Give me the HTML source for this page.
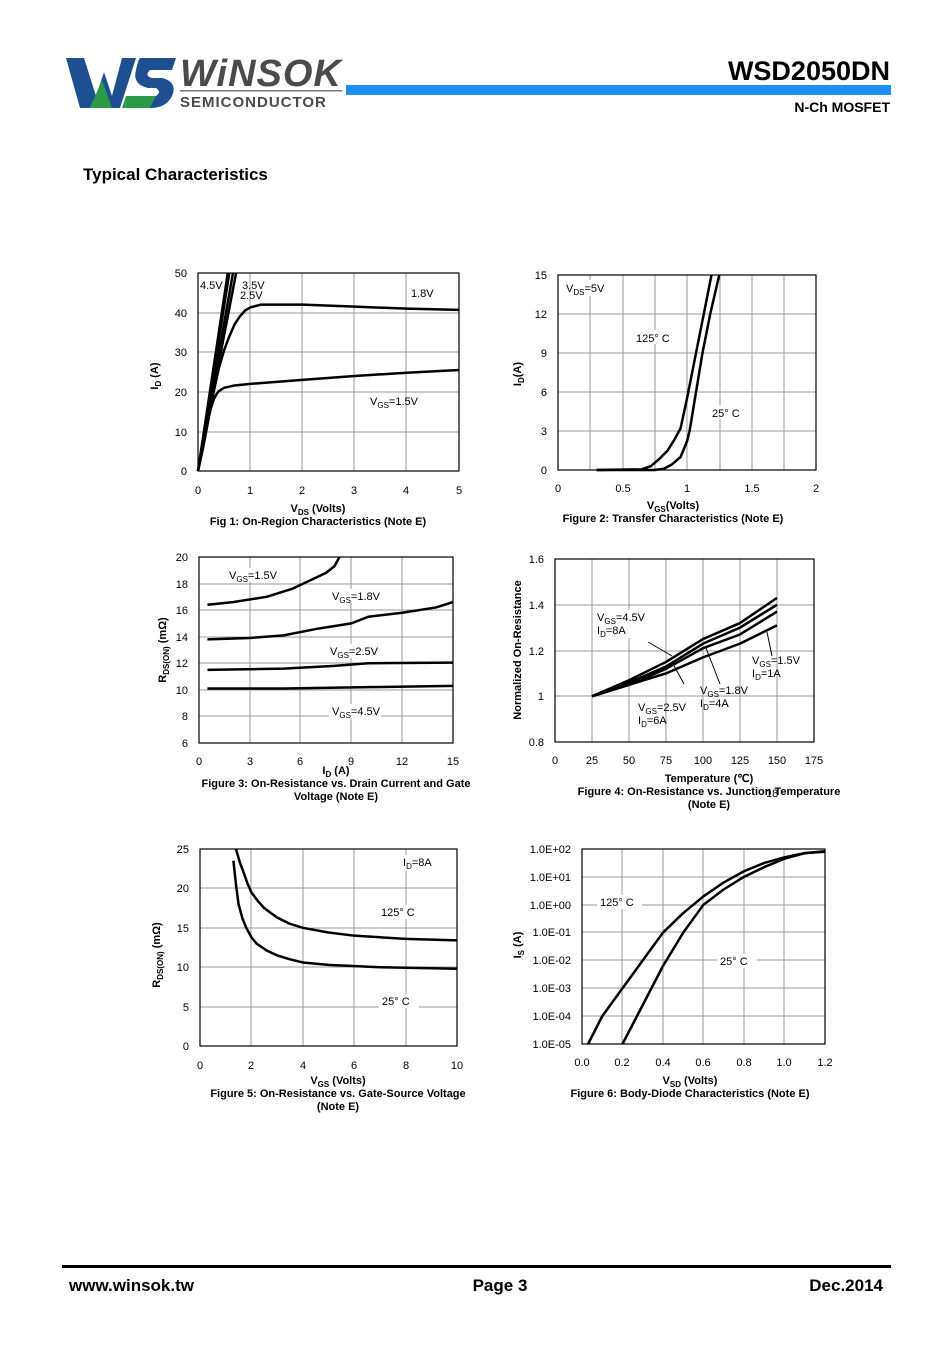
<!DOCTYPE html>
<html><head><meta charset="utf-8"><style>
body{margin:0;background:#fff;}
svg text{font-family:"Liberation Sans",Arial,sans-serif;}
.g{stroke:#999;stroke-width:1;fill:none}
.b{stroke:#000;stroke-width:1.2;fill:none}
.c{fill:none;stroke:#000;stroke-width:2.5;vector-effect:non-scaling-stroke;stroke-linejoin:round}
.t{font-size:11px}
.s{font-size:8px}
.cap{font-size:11px;font-weight:bold}
</style></head><body>
<svg width="950" height="1344" viewBox="0 0 950 1344" xmlns="http://www.w3.org/2000/svg">
<!-- logo -->
<path d="M66 58 L84 58 L96 96 L104 72 L112 96 L122 58 L136 58 L120 108 L104 108 L100 98 L94 108 L80 108 Z" fill="#1d4f91"/>
<path d="M90 108 L102 80 L112 108 Z" fill="#2a9a48"/>
<path d="M140 58 L176 58 L172 70 L150 70 Q144 76 152 78 L162 78 Q178 82 172 96 Q166 108 150 108 L124 108 L130 96 L156 96 Q162 92 156 88 L148 88 Q132 84 136 70 Q138 60 140 58Z" fill="#1d4f91"/>
<path d="M126 96 L156 96 L150 108 L122 108 Z" fill="#2a9a48"/>
<text x="180" y="86" font-size="38" font-weight="bold" font-style="italic" fill="#4a4a4a" letter-spacing="1">WiNSOK</text>
<rect x="180" y="90" width="162" height="1.5" fill="#777"/>
<text x="180" y="107" font-size="15" font-weight="bold" fill="#4a4a4a" letter-spacing="1">SEMICONDUCTOR</text>
<rect x="346" y="85" width="545" height="10" fill="#1e8ff0"/>
<text x="890" y="80" font-size="27" font-weight="bold" text-anchor="end">WSD2050DN</text>
<text x="890" y="112" font-size="14" font-weight="bold" text-anchor="end">N-Ch MOSFET</text>
<text x="83" y="180" font-size="17" font-weight="bold">Typical Characteristics</text>

<!-- Chart 1 -->
<g class="g"><path d="M250 273V471M302 273V471M354 273V471M406 273V471M198 313H459M198 352H459M198 392H459M198 432H459"/></g>
<rect x="198" y="273" width="261" height="198" class="b"/>
<g class="t" text-anchor="end"><text x="187" y="277">50</text><text x="187" y="317">40</text><text x="187" y="356">30</text><text x="187" y="396">20</text><text x="187" y="436">10</text><text x="187" y="475">0</text></g>
<g class="t" text-anchor="middle"><text x="198" y="494">0</text><text x="250" y="494">1</text><text x="302" y="494">2</text><text x="354" y="494">3</text><text x="406" y="494">4</text><text x="459" y="494">5</text></g>
<g transform="translate(198,471) scale(52.2,-3.96)">
<polyline class="c" points="0,0 0.05,3.5 0.1,7 0.15,10.5 0.2,13.5 0.25,16 0.3,18 0.35,19.3 0.4,20.2 0.5,21 0.7,21.6 1,22 2,23 3,24 4,24.8 5,25.5"/>
<polyline class="c" points="0,0 0.1,6 0.2,13 0.3,20 0.4,26 0.5,30.5 0.6,34 0.7,37 0.8,39 0.9,40.5 1,41.3 1.2,42 2,42 3,41.5 4,41 5,40.7"/>
<polyline class="c" points="0,0 0.73,50"/><polyline class="c" points="0,0 0.67,50"/><polyline class="c" points="0,0 0.6,50"/><polyline class="c" points="0,0 0.57,50"/>
</g>
<text x="200" y="289" class="t">4.5V</text><text x="242" y="289" class="t">3.5V</text><text x="240" y="299" class="t">2.5V</text><text x="411" y="297" class="t">1.8V</text>
<text x="370" y="405" class="t">V<tspan class="s" dy="3">GS</tspan><tspan dy="-3">=1.5V</tspan></text>
<text x="158" y="376" class="t" font-weight="bold" transform="rotate(-90 158 376)" text-anchor="middle">I<tspan class="s" dy="3">D</tspan><tspan dy="-3"> (A)</tspan></text>
<text x="318" y="512" class="cap" text-anchor="middle">V<tspan class="s" dy="3">DS</tspan><tspan dy="-3"> (Volts)</tspan></text>
<text x="318" y="525" class="cap" text-anchor="middle">Fig 1: On-Region Characteristics (Note E)</text>

<!-- Chart 2 -->
<g class="g"><path d="M590 275V470M623 275V470M655 275V470M687 275V470M720 275V470M752 275V470M784 275V470M558 314H816M558 353H816M558 392H816M558 431H816"/></g>
<rect x="558" y="275" width="258" height="195" class="b"/>
<g class="t" text-anchor="end"><text x="547" y="279">15</text><text x="547" y="318">12</text><text x="547" y="357">9</text><text x="547" y="396">6</text><text x="547" y="435">3</text><text x="547" y="474">0</text></g>
<g class="t" text-anchor="middle"><text x="558" y="492">0</text><text x="623" y="492">0.5</text><text x="687" y="492">1</text><text x="752" y="492">1.5</text><text x="816" y="492">2</text></g>
<g transform="translate(558,470) scale(129,-13)">
<polyline class="c" points="0.3,0 0.65,0.05 0.72,0.3 0.78,0.8 0.85,1.5 0.9,2.3 0.95,3.2 1.0,5.5 1.05,8 1.1,10.5 1.15,13 1.19,15"/>
<polyline class="c" points="0.3,0 0.75,0 0.82,0.1 0.88,0.4 0.95,1 1.0,2.2 1.02,3 1.07,6 1.12,9 1.18,12 1.25,15"/>
</g>
<rect x="562" y="280" width="50" height="16" fill="#fff"/><text x="566" y="292" class="t">V<tspan class="s" dy="3">DS</tspan><tspan dy="-3">=5V</tspan></text>
<rect x="633" y="330" width="45" height="14" fill="#fff"/><text x="636" y="342" class="t">125° C</text>
<rect x="709" y="405" width="40" height="14" fill="#fff"/><text x="712" y="417" class="t">25° C</text>
<text x="521" y="374" class="t" font-weight="bold" transform="rotate(-90 521 374)" text-anchor="middle">I<tspan class="s" dy="3">D</tspan><tspan dy="-3">(A)</tspan></text>
<text x="673" y="509" class="cap" text-anchor="middle">V<tspan class="s" dy="3">GS</tspan><tspan dy="-3">(Volts)</tspan></text>
<text x="673" y="522" class="cap" text-anchor="middle">Figure 2: Transfer Characteristics (Note E)</text>

<!-- Chart 3 -->
<g class="g"><path d="M250 557V743M300 557V743M351 557V743M402 557V743M199 584H453M199 610H453M199 637H453M199 663H453M199 690H453M199 716H453"/></g>
<rect x="199" y="557" width="254" height="186" class="b"/>
<g class="t" text-anchor="end"><text x="188" y="561">20</text><text x="188" y="588">18</text><text x="188" y="614">16</text><text x="188" y="641">14</text><text x="188" y="667">12</text><text x="188" y="694">10</text><text x="188" y="720">8</text><text x="188" y="747">6</text></g>
<g class="t" text-anchor="middle"><text x="199" y="765">0</text><text x="250" y="765">3</text><text x="300" y="765">6</text><text x="351" y="765">9</text><text x="402" y="765">12</text><text x="453" y="765">15</text></g>
<g transform="translate(199,822.74) scale(16.93,-13.29)">
<polyline class="c" points="0.5,16.4 2,16.6 4,17 5.5,17.6 6.5,18.2 7.5,18.8 8,19.3 8.3,20"/>
<polyline class="c" points="0.5,13.8 3,13.9 5,14.1 7,14.6 9,15 10,15.5 12,15.8 14,16.2 15,16.6"/>
<polyline class="c" points="0.5,11.5 5,11.6 8,11.8 10,12 15,12.05"/>
<polyline class="c" points="0.5,10.1 5,10.1 10,10.2 15,10.3"/>
</g>
<rect x="226" y="568" width="52" height="14" fill="#fff"/><text x="229" y="579" class="t">V<tspan class="s" dy="3">GS</tspan><tspan dy="-3">=1.5V</tspan></text>
<rect x="329" y="589" width="52" height="14" fill="#fff"/><text x="332" y="600" class="t">V<tspan class="s" dy="3">GS</tspan><tspan dy="-3">=1.8V</tspan></text>
<rect x="327" y="644" width="52" height="14" fill="#fff"/><text x="330" y="655" class="t">V<tspan class="s" dy="3">GS</tspan><tspan dy="-3">=2.5V</tspan></text>
<rect x="329" y="704" width="52" height="14" fill="#fff"/><text x="332" y="715" class="t">V<tspan class="s" dy="3">GS</tspan><tspan dy="-3">=4.5V</tspan></text>
<text x="166" y="650" class="t" font-weight="bold" transform="rotate(-90 166 650)" text-anchor="middle">R<tspan class="s" dy="3">DS(ON)</tspan><tspan dy="-3"> (mΩ)</tspan></text>
<text x="336" y="774" class="cap" text-anchor="middle">I<tspan class="s" dy="3">D</tspan><tspan dy="-3"> (A)</tspan></text>
<text x="336" y="787" class="cap" text-anchor="middle">Figure 3: On-Resistance vs. Drain Current and Gate</text>
<text x="336" y="800" class="cap" text-anchor="middle">Voltage (Note E)</text>

<!-- Chart 4 -->
<g class="g"><path d="M592 559V742M629 559V742M666 559V742M703 559V742M740 559V742M777 559V742M555 605H814M555 651H814M555 696H814"/></g>
<rect x="555" y="559" width="259" height="183" class="b"/>
<g class="t" text-anchor="end"><text x="544" y="563">1.6</text><text x="544" y="609">1.4</text><text x="544" y="655">1.2</text><text x="544" y="700">1</text><text x="544" y="746">0.8</text></g>
<g class="t" text-anchor="middle"><text x="555" y="764">0</text><text x="592" y="764">25</text><text x="629" y="764">50</text><text x="666" y="764">75</text><text x="703" y="764">100</text><text x="740" y="764">125</text><text x="777" y="764">150</text><text x="814" y="764">175</text></g>
<g transform="translate(555,925) scale(1.48,-228.75)">
<polyline class="c" points="25,1 50,1.07 75,1.15 100,1.25 125,1.32 150,1.43"/>
<polyline class="c" points="25,1 50,1.06 75,1.13 100,1.23 125,1.3 150,1.4"/>
<polyline class="c" points="25,1 50,1.05 75,1.12 100,1.21 125,1.27 150,1.37"/>
<polyline class="c" points="25,1 50,1.05 75,1.1 100,1.17 125,1.23 150,1.31"/>
</g>
<g stroke="#000" stroke-width="1"><path d="M648 642L672 656M684 684L672 662M720 684L706 648M772 656L767 632"/></g>
<rect x="595" y="610" width="50" height="28" fill="#fff"/>
<text x="597" y="621" class="t">V<tspan class="s" dy="3">GS</tspan><tspan dy="-3">=4.5V</tspan></text><text x="597" y="634" class="t">I<tspan class="s" dy="3">D</tspan><tspan dy="-3">=8A</tspan></text>
<text x="752" y="664" class="t">V<tspan class="s" dy="3">GS</tspan><tspan dy="-3">=1.5V</tspan></text><text x="752" y="677" class="t">I<tspan class="s" dy="3">D</tspan><tspan dy="-3">=1A</tspan></text>
<text x="700" y="694" class="t">V<tspan class="s" dy="3">GS</tspan><tspan dy="-3">=1.8V</tspan></text><text x="700" y="707" class="t">I<tspan class="s" dy="3">D</tspan><tspan dy="-3">=4A</tspan></text>
<text x="638" y="711" class="t">V<tspan class="s" dy="3">GS</tspan><tspan dy="-3">=2.5V</tspan></text><text x="638" y="724" class="t">I<tspan class="s" dy="3">D</tspan><tspan dy="-3">=6A</tspan></text>
<text x="521" y="650" class="t" font-weight="bold" transform="rotate(-90 521 650)" text-anchor="middle">Normalized On-Resistance</text>
<text x="709" y="782" class="cap" text-anchor="middle">Temperature (℃)</text>
<text x="709" y="795" class="cap" text-anchor="middle">Figure 4: On-Resistance vs. Junction Temperature</text>
<text x="709" y="808" class="cap" text-anchor="middle">(Note E)</text>
<text x="766" y="797" class="t">18</text>

<!-- Chart 5 -->
<g class="g"><path d="M251 849V1046M303 849V1046M354 849V1046M406 849V1046M200 888H457M200 928H457M200 967H457M200 1007H457"/></g>
<rect x="200" y="849" width="257" height="197" class="b"/>
<g class="t" text-anchor="end"><text x="189" y="853">25</text><text x="189" y="892">20</text><text x="189" y="932">15</text><text x="189" y="971">10</text><text x="189" y="1011">5</text><text x="189" y="1050">0</text></g>
<g class="t" text-anchor="middle"><text x="200" y="1069">0</text><text x="251" y="1069">2</text><text x="303" y="1069">4</text><text x="354" y="1069">6</text><text x="406" y="1069">8</text><text x="457" y="1069">10</text></g>
<g transform="translate(200,1046) scale(25.7,-7.88)">
<polyline class="c" points="1.3,23.5 1.4,20.5 1.5,18 1.65,16.2 1.8,15 2,13.8 2.2,13 2.6,12.1 3,11.5 3.5,11 4,10.6 5,10.3 7,10 10,9.8"/>
<polyline class="c" points="1.4,25 1.55,23.3 1.7,22 1.85,20.6 2,19.5 2.25,18.4 2.5,17.5 3,16.3 3.5,15.5 4,15 5,14.4 6,14 8,13.6 10,13.4"/>
</g>
<rect x="401" y="855" width="34" height="16" fill="#fff"/><text x="403" y="866" class="t">I<tspan class="s" dy="3">D</tspan><tspan dy="-3">=8A</tspan></text>
<rect x="378" y="905" width="45" height="14" fill="#fff"/><text x="381" y="916" class="t">125° C</text>
<rect x="379" y="994" width="40" height="14" fill="#fff"/><text x="382" y="1005" class="t">25° C</text>
<text x="160" y="955" class="t" font-weight="bold" transform="rotate(-90 160 955)" text-anchor="middle">R<tspan class="s" dy="3">DS(ON)</tspan><tspan dy="-3"> (mΩ)</tspan></text>
<text x="338" y="1084" class="cap" text-anchor="middle">V<tspan class="s" dy="3">GS</tspan><tspan dy="-3"> (Volts)</tspan></text>
<text x="338" y="1097" class="cap" text-anchor="middle">Figure 5: On-Resistance vs. Gate-Source Voltage</text>
<text x="338" y="1110" class="cap" text-anchor="middle">(Note E)</text>

<!-- Chart 6 -->
<g class="g"><path d="M622 849V1044M663 849V1044M703 849V1044M744 849V1044M784 849V1044M582 877H825M582 905H825M582 932H825M582 960H825M582 988H825M582 1016H825"/></g>
<rect x="582" y="849" width="243" height="195" class="b"/>
<g class="t" text-anchor="end"><text x="571" y="853">1.0E+02</text><text x="571" y="881">1.0E+01</text><text x="571" y="909">1.0E+00</text><text x="571" y="936">1.0E-01</text><text x="571" y="964">1.0E-02</text><text x="571" y="992">1.0E-03</text><text x="571" y="1020">1.0E-04</text><text x="571" y="1048">1.0E-05</text></g>
<g class="t" text-anchor="middle"><text x="582" y="1066">0.0</text><text x="622" y="1066">0.2</text><text x="663" y="1066">0.4</text><text x="703" y="1066">0.6</text><text x="744" y="1066">0.8</text><text x="784" y="1066">1.0</text><text x="825" y="1066">1.2</text></g>
<g transform="translate(582,904.7) scale(202.5,-27.86)">
<polyline class="c" points="0.03,-5 0.1,-4 0.2,-3 0.3,-2 0.4,-1 0.5,-0.3 0.6,0.3 0.7,0.8 0.8,1.2 0.9,1.5 1.0,1.7 1.1,1.85 1.2,1.9"/>
<polyline class="c" points="0.2,-5 0.3,-3.6 0.4,-2.2 0.5,-1 0.6,0 0.7,0.55 0.8,1 0.9,1.35 1.0,1.65 1.1,1.85 1.2,1.92"/>
</g>
<rect x="597" y="895" width="45" height="14" fill="#fff"/><text x="600" y="906" class="t">125° C</text>
<rect x="717" y="954" width="40" height="14" fill="#fff"/><text x="720" y="965" class="t">25° C</text>
<text x="521" y="945" class="t" font-weight="bold" transform="rotate(-90 521 945)" text-anchor="middle">I<tspan class="s" dy="3">S</tspan><tspan dy="-3"> (A)</tspan></text>
<text x="690" y="1084" class="cap" text-anchor="middle">V<tspan class="s" dy="3">SD</tspan><tspan dy="-3"> (Volts)</tspan></text>
<text x="690" y="1097" class="cap" text-anchor="middle">Figure 6: Body-Diode Characteristics (Note E)</text>

<!-- footer -->
<rect x="62" y="1265" width="829" height="3" fill="#000"/>
<text x="69" y="1291" font-size="17" font-weight="bold">www.winsok.tw</text>
<text x="500" y="1291" font-size="17" font-weight="bold" text-anchor="middle">Page 3</text>
<text x="883" y="1291" font-size="17" font-weight="bold" text-anchor="end">Dec.2014</text>
</svg>
</body></html>
